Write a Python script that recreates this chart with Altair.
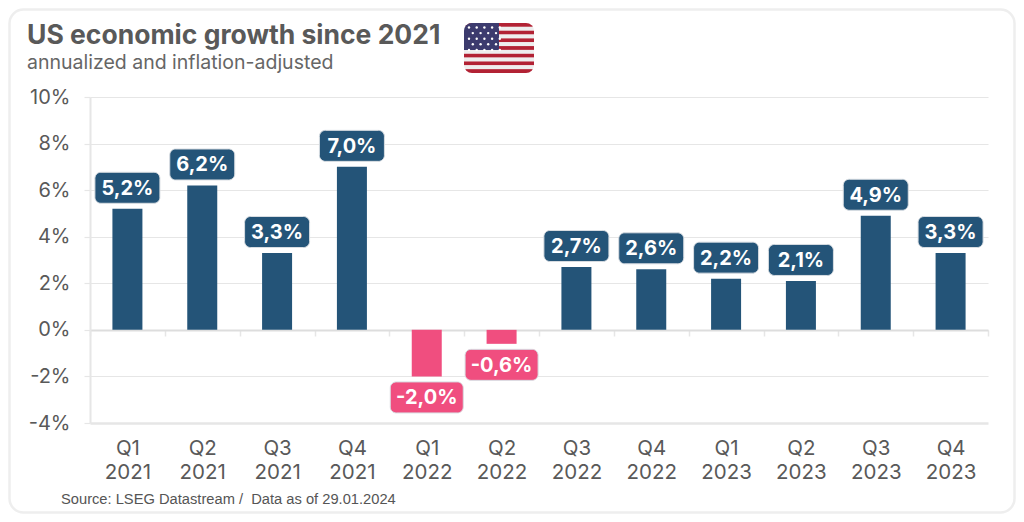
import altair as alt
import pandas as pd
import base64

quarters = ["Q1", "Q2", "Q3", "Q4"] * 3
years = ["2021"] * 4 + ["2022"] * 4 + ["2023"] * 4
values = [5.2, 6.2, 3.3, 7.0, -2.0, -0.6, 2.7, 2.6, 2.2, 2.1, 4.9, 3.3]
labels = ["5,2%", "6,2%", "3,3%", "7,0%", "-2,0%", "-0,6%", "2,7%", "2,6%", "2,2%", "2,1%", "4,9%", "3,3%"]
y_ticks = [-4, -2, 0, 2, 4, 6, 8, 10]

BLUE = "#245478"
PINK = "#F04E7F"
GRID = "#e6e6e6"
TXT = "#595959"
FONT = "Inter"
PX = 326 / 14  # pixels per percentage point

df = pd.DataFrame({"cat": [f"{q} {y}" for q, y in zip(quarters, years)], "value": values, "label": labels})
df["color"] = [BLUE if v >= 0 else PINK for v in values]
order = df["cat"].tolist()
df["box_near"] = [v + (5.5 / PX if v >= 0 else -5.5 / PX) for v in values]
df["box_far"] = [v + (36.5 / PX if v >= 0 else -36.5 / PX) for v in values]
df["box_mid"] = [(a + b) / 2 for a, b in zip(df["box_near"], df["box_far"])]

x = alt.X("cat:N", sort=order, title=None, scale=alt.Scale(paddingInner=0, paddingOuter=0),
          axis=alt.Axis(orient="bottom", offset=-93, labelPadding=102, labelAngle=0, labelFont=FONT, labelFontSize=20.5,
                        labelColor=TXT, labelExpr="split(datum.label, ' ')", labelLineHeight=24,
                        tickBand="extent", tickSize=6, tickColor=GRID, tickWidth=1.5,
                        domainColor="#dddddd", domainWidth=2, grid=False))
y = alt.Y("value:Q", title=None, scale=alt.Scale(domain=[-4, 10], nice=False),
          axis=alt.Axis(values=y_ticks, labelExpr="datum.value + '%'", labelFont=FONT, labelFontSize=20, labelColor=TXT,
                        labelPadding=14, tickSize=6, tickColor=GRID, tickWidth=1.2, domainColor=GRID, domainWidth=2,
                        gridColor=GRID, grid=True,
                        gridWidth={"condition": {"test": "datum.value === -4", "value": 2.5}, "value": 1.2}))
color = alt.Color("color:N", scale=None, legend=None)

card_row = pd.DataFrame({"card": ["card"]})
card = alt.Chart(card_row).mark_rect(fillOpacity=0, stroke="#eeeeee", strokeWidth=2.5, cornerRadius=14).encode(
    x=alt.value(9.5 - 90), x2=alt.value(1014.5 - 90), y=alt.value(9.5 - 97), y2=alt.value(512.5 - 97))

base = alt.Chart(df)
bars = base.mark_bar(width=30).encode(x=x, y=y, color=color)

def box_layer(test, w):
    return base.transform_filter(test).mark_bar(width=w, cornerRadius=6, stroke="#d8dde2", strokeWidth=1).encode(
        x=alt.X("cat:N", sort=order), y=alt.Y("box_near:Q"), y2="box_far:Q", color=color)

boxes_pos = box_layer("datum.value >= 0", 65)
boxes_neg = box_layer("datum.value < 0", 73)
box_text = base.mark_text(font=FONT, fontSize=20, fontWeight=700, color="white", baseline="middle", dy=1).encode(
    x=alt.X("cat:N", sort=order), y=alt.Y("box_mid:Q"), text="label:N")

def text_layer(s, px, py, size, weight, col, font=FONT):
    return alt.Chart(pd.DataFrame({"t": [s]})).mark_text(
        font=font, fontSize=size, fontWeight=weight, color=col, align="left", baseline="alphabetic"
    ).encode(x=alt.value(px - 90), y=alt.value(py - 97), text="t:N")

title = text_layer("US economic growth since 2021", 27, 44, 26.5, 700, TXT)
subtitle = text_layer("annualized and inflation-adjusted", 27, 69, 19.5, 400, "#666666")
source = text_layer("Source: LSEG Datastream /\u00a0 Data as of 29.01.2024", 61, 504, 14.7, 400, "#555555", "Liberation Sans")

stripes = "".join(f'<rect y="{i * 50 / 13:.2f}" width="70" height="{50 / 13:.2f}" fill="{"#b22234" if i % 2 == 0 else "#eeeeee"}"/>' for i in range(13))
stars = "".join(f'<circle cx="{5 + c * 7.7 + (3.85 if r % 2 else 0):.1f}" cy="{4.5 + r * 5.6:.1f}" r="1.2" fill="#fff"/>'
                for r in range(5) for c in range(5 if r % 2 == 0 else 4))
svg = (f'<svg xmlns="http://www.w3.org/2000/svg" width="70" height="50" viewBox="0 0 70 50"><defs><clipPath id="c">'
       f'<rect width="70" height="50" rx="8"/></clipPath></defs><g clip-path="url(#c)">{stripes}'
       f'<rect width="35" height="27" fill="#3c3b6e"/>{stars}</g></svg>')
flag_url = "data:image/svg+xml;base64," + base64.b64encode(svg.encode()).decode()
flag = alt.Chart(pd.DataFrame({"u": [flag_url]})).mark_image(width=70, height=50, align="left", baseline="top").encode(
    x=alt.value(464 - 90), y=alt.value(23 - 97), url="u:N")

chart = alt.layer(card, bars, boxes_pos, boxes_neg, box_text, title, subtitle, source, flag).properties(
    width=898, height=326, padding={"left": 82, "top": 89, "right": 28, "bottom": 91},
    autosize=alt.AutoSizeParams(type="none"),
).configure_view(stroke=None)

chart.save("out.html", embed_options={"renderer": "svg", "actions": False})
